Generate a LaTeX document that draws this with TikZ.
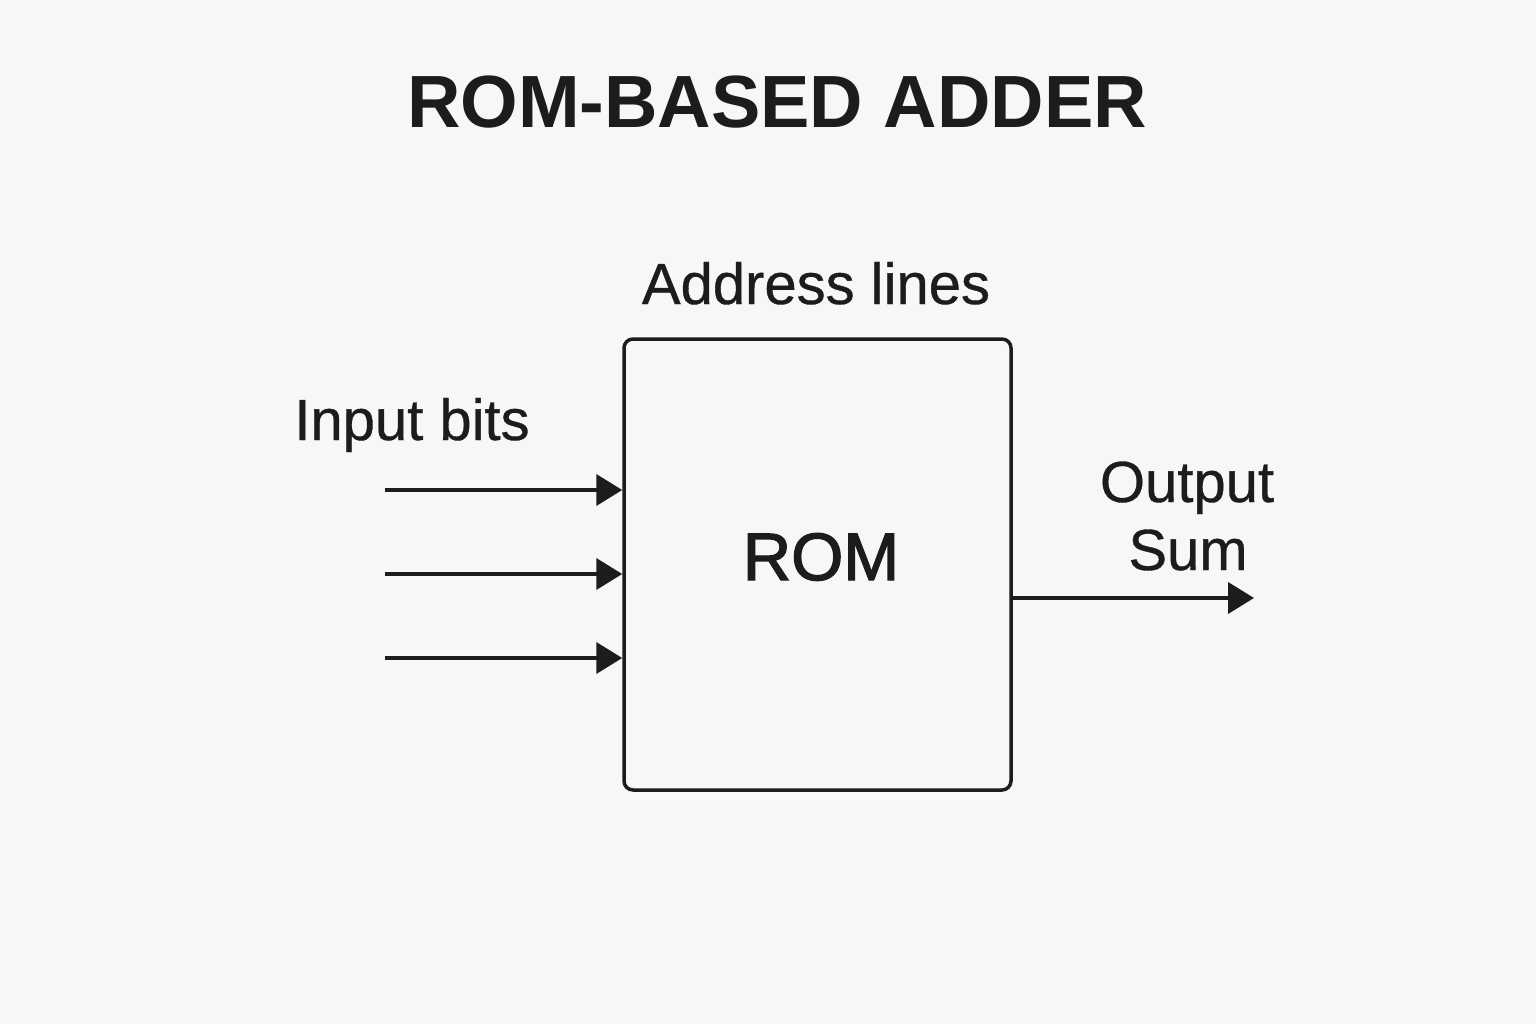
\documentclass[tikz,border=0pt]{standalone}
\usepackage{fontspec}
\setmainfont{Liberation Sans}
\newfontfamily\medfont[FakeBold=0.6]{Liberation Sans}
\newfontfamily\semifont[FakeBold=2.0]{Liberation Sans}
\usetikzlibrary{arrows.meta}
\definecolor{ink}{HTML}{1C1C1C}
\definecolor{bg}{HTML}{F7F7F7}
\begin{document}
\begin{tikzpicture}[x=1pt,y=-1pt,
  lbl/.style={text=ink,inner sep=0pt,anchor=base,font=\medfont\fontsize{58}{60}\selectfont},
  wire/.style={draw=ink,line width=4pt,-{Triangle[length=26pt,width=31pt]}},
  rombox/.style={draw=ink,line width=3.5pt,rounded corners=9pt}]
\fill[bg] (0,0) rectangle (1536,1024);
\useasboundingbox (0,0) rectangle (1536,1024);
\node[lbl,font=\bfseries\fontsize{74}{76}\selectfont] (title) at (777,128) {ROM-BASED ADDER};
\node[rombox,minimum width=387pt,minimum height=451pt,inner sep=0pt] (rom) at (817.5,564.5) {};
\node[lbl,font=\semifont\fontsize{67}{70}\selectfont] (romtxt) at (821,580) {ROM};
\node[lbl] (addr) at (816,304) {Address lines};
\node[lbl] (inp) at (412,440) {Input bits};
\node[lbl] (out) at (1187,502) {Output};
\node[lbl] (sum) at (1188,570) {Sum};
\coordinate (i1) at (385,490);
\coordinate (i2) at (385,574);
\coordinate (i3) at (385,658);
\coordinate (o) at (1254,598);
\draw[wire] (i1) -- (i1 -| rom.west);
\draw[wire] (i2) -- (i2 -| rom.west);
\draw[wire] (i3) -- (i3 -| rom.west);
\draw[wire] (o -| rom.east) -- (o);
\end{tikzpicture}
\end{document}
